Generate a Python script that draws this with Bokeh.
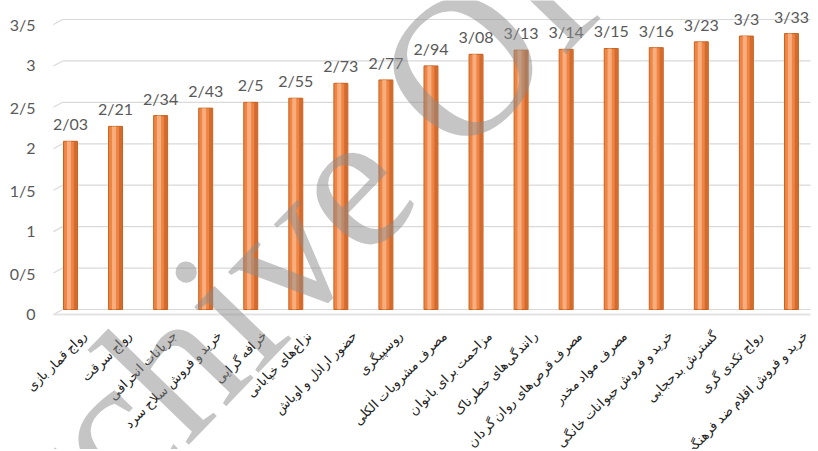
import math
from bokeh.plotting import figure
from bokeh.models import ColumnDataSource, Range1d, Label, LabelSet
from bokeh.embed import file_html
from bokeh.resources import INLINE

categories = [
    "رواج قمار بازی",
    "رواج سرقت",
    "جریانات انحرافی",
    "خرید و فروش سلاح سرد",
    "خرافه گرایی",
    "نزاع‌های خیابانی",
    "حضور اراذل و اوباش",
    "روسپیگری",
    "مصرف مشروبات الکلی",
    "مزاحمت برای بانوان",
    "رانندگی‌های خطرناک",
    "مصرف قرص‌های روان گردان",
    "مصرف مواد مخدر",
    "خرید و فروش حیوانات خانگی",
    "گسترش بدحجابی",
    "رواج تکدی گری",
    "خرید و فروش اقلام ضد فرهنگی",
]
values = [2.03, 2.21, 2.34, 2.43, 2.5, 2.55, 2.73, 2.77, 2.94,
          3.08, 3.13, 3.14, 3.15, 3.16, 3.23, 3.3, 3.33]
value_labels = ["2/03", "2/21", "2/34", "2/43", "2/5", "2/55", "2/73", "2/77", "2/94",
                "3/08", "3/13", "3/14", "3/15", "3/16", "3/23", "3/3", "3/33"]
y_ticks = [0, 0.5, 1, 1.5, 2, 2.5, 3, 3.5]
y_tick_labels = ["0", "0/5", "1", "1/5", "2", "2/5", "3", "3/5"]

# layout constants (pixels -> data through the plot scales)
S_X = 45.06          # px per category
S_Y = 82.86          # px per unit
X_ZERO_PX = 70       # page x of first category
Y_ZERO_PX = 309      # page y of value 0
W, H = 816, 449
X0, X1 = -X_ZERO_PX / S_X, (W - X_ZERO_PX) / S_X
Y0, Y1 = -(H - Y_ZERO_PX) / S_Y, Y_ZERO_PX / S_Y

xs = list(range(len(categories)))
src = ColumnDataSource(dict(x=xs, top=values, lab=value_labels,
                            xh=[x - 0.035 for x in xs],
                            xd=[x + 0.11 for x in xs],
                            zero=[0] * len(xs), cat=categories))

p = figure(width=W, height=H, output_backend="svg", toolbar_location=None,
           x_range=Range1d(X0, X1), y_range=Range1d(Y0, Y1),
           x_axis_location=None, y_axis_location=None,
           min_border_left=0, min_border_right=0, min_border_top=0,
           min_border_bottom=0)
p.outline_line_color = None
p.background_fill_color = "white"
p.xgrid.visible = False
p.ygrid.visible = False

# grid lines with the 3D slanted start on the left
gx_a = (53 - X_ZERO_PX) / S_X
gx_b = (62 - X_ZERO_PX) / S_X
gx_e = (810 - X_ZERO_PX) / S_X
slant = 5 / S_Y
gsrc = ColumnDataSource(dict(
    xa=[gx_a] * len(y_ticks), xb=[gx_b] * len(y_ticks), xe=[gx_e] * len(y_ticks),
    ya=[t - slant for t in y_ticks], y=y_ticks))
p.segment(x0="xa", y0="ya", x1="xb", y1="y", source=gsrc,
          line_color="#d9d9d9", line_width=1.2)
p.segment(x0="xb", y0="y", x1="xe", y1="y", source=gsrc,
          line_color="#d9d9d9", line_width=1.2)
# floor edge
p.segment(x0=[gx_a], y0=[-slant], x1=[gx_e], y1=[-slant],
          line_color="#e3e3e3", line_width=2)

# y tick labels (on the front edge, so slightly lower than the gridlines)
ysrc = ColumnDataSource(dict(x=[X0] * len(y_ticks), y=y_ticks, t=y_tick_labels))
p.text(x="x", y="y", text="t", source=ysrc, x_offset=35, y_offset=5,
       text_align="right", text_baseline="middle", text_color="#595959",
       text_font_size="16px", text_font={"value": "Lato"})

# bars
p.vbar(x="x", top="top", bottom=0, width=0.31, source=src,
       fill_color="#EF8444", line_color="#C8621C", line_width=1)
p.vbar(x="xd", top="top", bottom=0, width=0.07, source=src,
       fill_color="#C9652A", line_color=None, fill_alpha=0.8)
p.vbar(x="xh", top="top", bottom=0, width=0.09, source=src,
       fill_color="#F9BC93", line_color=None, fill_alpha=0.75)

# value labels
p.text(x="x", y="top", text="lab", source=src, text_align="center",
       text_baseline="bottom", y_offset=-8, text_color="#595959",
       text_font_size="16px", text_font={"value": "Lato"})

# category labels (rotated)
cats = LabelSet(x="x", y="zero", text="cat", source=src, angle=math.pi / 4,
                text_align="right", text_baseline="middle",
                x_offset=14, y_offset=-24, text_font_size="13px",
                text_font="DejaVu Sans", text_color="#222222")
p.add_layout(cats)

# watermark
wm = Label(x=(29 - X_ZERO_PX) / S_X, y=(Y_ZERO_PX - 512) / S_Y, text="rchive Of",
           angle=math.radians(46), text_font="Liberation Serif",
           text_font_size="200px", text_baseline="alphabetic",
           text_color="#8c8c8c", text_alpha=0.5)
p.add_layout(wm)

open("out.html", "w").write(file_html(p, INLINE))
